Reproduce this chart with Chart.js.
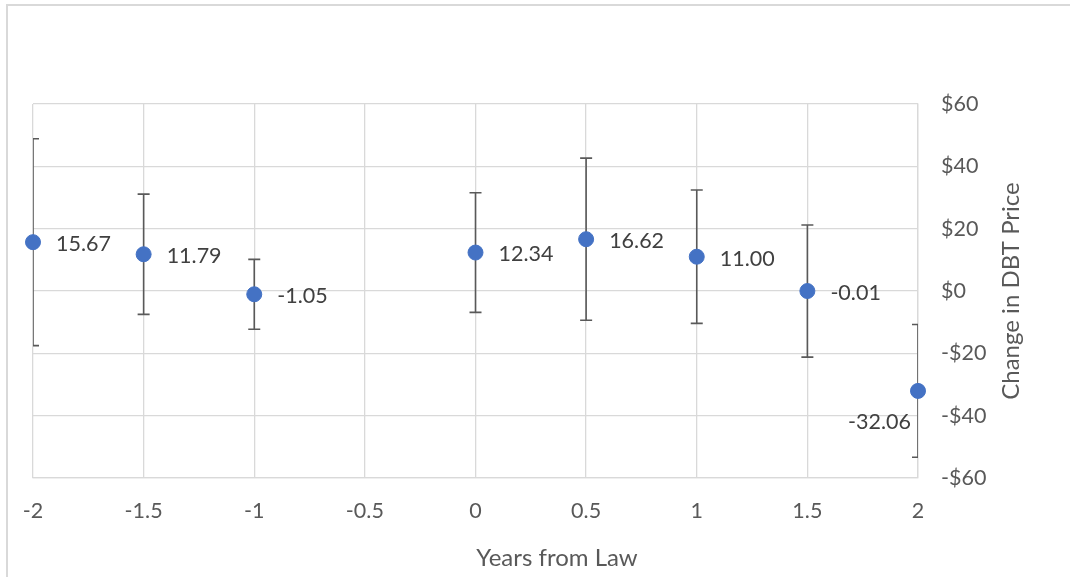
<!DOCTYPE html>
<html><head><meta charset="utf-8">
<script src="https://cdn.jsdelivr.net/npm/chart.js@4/dist/chart.umd.min.js"></script>
<style>
html,body{margin:0;padding:0;background:#fff;overflow:hidden}
#wrap{position:relative;width:1070px;height:577px;overflow:hidden}
#frame{position:absolute;left:6px;top:4px;width:1200px;height:700px;border-left:2px solid #d9d9d9;border-top:2px solid #d9d9d9}
canvas{position:absolute;left:0;top:0}
</style></head>
<body><div id="wrap"><div id="frame"></div><canvas id="c" width="1070" height="577"></canvas></div>
<script>
// ---- data ----
const years = [-2, -1.5, -1, 0, 0.5, 1, 1.5, 2];
const priceChange = [15.67, 11.79, -1.05, 12.34, 16.62, 11.00, -0.01, -32.06];
const errorMargin = [33.2, 19.3, 11.2, 19.2, 26.0, 21.4, 21.2, 21.3];
const xTicks = [-2, -1.5, -1, -0.5, 0, 0.5, 1, 1.5, 2];
const yTicks = [-60, -40, -20, 0, 20, 40, 60];
const labelPlacement = ['right','right','right','right','right','right','right','belowLeft'];

const FONT = 'Lato, "Open Sans", sans-serif';
const points = years.map((x, i) => ({x: x, y: priceChange[i]}));

const errorPlugin = {
  id: 'errbars',
  beforeDatasetsDraw(chart) {
    const {ctx, chartArea: a, scales: {x, y}} = chart;
    ctx.save();
    ctx.beginPath();
    ctx.rect(a.left, a.top, a.right - a.left, a.bottom - a.top);
    ctx.clip();
    ctx.strokeStyle = '#595959';
    ctx.lineWidth = 1.6;
    years.forEach((xv, i) => {
      const px = x.getPixelForValue(xv);
      const top = y.getPixelForValue(priceChange[i] + errorMargin[i]);
      const bot = y.getPixelForValue(priceChange[i] - errorMargin[i]);
      ctx.beginPath();
      ctx.moveTo(px, top); ctx.lineTo(px, bot);
      ctx.moveTo(px - 6, top); ctx.lineTo(px + 6, top);
      ctx.moveTo(px - 6, bot); ctx.lineTo(px + 6, bot);
      ctx.stroke();
    });
    ctx.restore();
  },
  afterDatasetsDraw(chart) {
    const {ctx, scales: {x, y}} = chart;
    ctx.save();
    ctx.font = '21.5px ' + FONT;
    ctx.fillStyle = '#404040';
    ctx.textBaseline = 'middle';
    years.forEach((xv, i) => {
      const px = x.getPixelForValue(xv);
      const py = y.getPixelForValue(priceChange[i]);
      const txt = priceChange[i].toFixed(2);
      if (labelPlacement[i] === 'right') {
        ctx.textAlign = 'left';
        ctx.fillText(txt, px + 23, py + 2);
      } else {
        ctx.textAlign = 'right';
        ctx.fillText(txt, px - 7, py + 31);
      }
    });
    ctx.restore();
  },
  afterDraw(chart) {
    const {ctx, chartArea: a} = chart;
    ctx.save();
    ctx.font = '24px ' + FONT;
    ctx.fillStyle = '#595959';
    ctx.textAlign = 'center';
    ctx.textBaseline = 'middle';
    ctx.fillText('Years from Law', 557, 558);
    ctx.translate(1011, (a.top + a.bottom) / 2);
    ctx.rotate(-Math.PI / 2);
    ctx.fillText('Change in DBT Price', 0, 0);
    ctx.restore();
  }
};

new Chart(document.getElementById('c'), {
  type: 'scatter',
  data: {
    datasets: [{
      data: points,
      backgroundColor: '#4472C4',
      borderColor: '#4472C4',
      pointRadius: 7.5,
      pointHoverRadius: 7.5,
      clip: false
    }]
  },
  options: {
    responsive: false,
    animation: false,
    devicePixelRatio: 1,
    layout: {padding: {left: 33, top: 104, right: 0, bottom: 0}},
    plugins: {legend: {display: false}, tooltip: {enabled: false}},
    scales: {
      x: {
        type: 'linear', min: -2, max: 2,
        afterBuildTicks: s => { s.ticks = xTicks.map(v => ({value: v})); },
        afterFit: s => { s.height = 99; },
        ticks: {
          font: {family: FONT, size: 21.5}, color: '#595959', padding: 20,
          callback: v => String(v)
        },
        grid: {color: '#d9d9d9', lineWidth: 1.3, drawTicks: false},
        border: {color: '#d9d9d9', width: 1.3}
      },
      y: {
        type: 'linear', position: 'right', min: -60, max: 60,
        afterBuildTicks: s => { s.ticks = yTicks.map(v => ({value: v})); },
        afterFit: s => { s.width = 152; },
        ticks: {
          font: {family: FONT, size: 21.5}, color: '#595959', padding: 23,
          callback: v => (v < 0 ? '-$' : '$') + Math.abs(v)
        },
        grid: {color: '#d9d9d9', lineWidth: 1.3, drawTicks: false},
        border: {color: '#d9d9d9', width: 1.3}
      }
    }
  },
  plugins: [errorPlugin]
});
</script>
</body></html>
